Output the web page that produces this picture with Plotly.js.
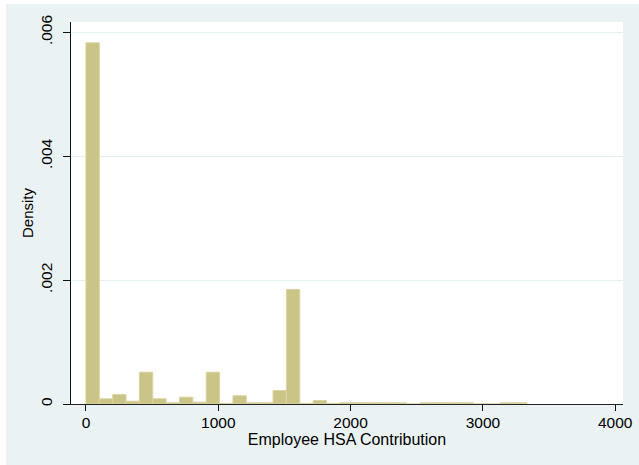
<!DOCTYPE html>
<html>
<head>
<meta charset="utf-8">
<script src="https://cdn.plot.ly/plotly-3.0.1.min.js"></script>
<style>
  html, body { margin: 0; padding: 0; background: #ffffff; }
  #chart { width: 639px; height: 465px; }
</style>
</head>
<body>
<div id="chart"></div>
<script>
// Histogram bins (left edges, in dollars) and densities
const binWidth = 101;
const binStart = [0, 101, 202, 303, 404, 505, 606, 707, 808, 909,
                  1010, 1111, 1212, 1313, 1414, 1515, 1616, 1717, 1818, 1919,
                  2020, 2121, 2222, 2323, 2424, 2525, 2626, 2727, 2828, 2929,
                  3030, 3131, 3232];
const density = [0.00583, 0.000084, 0.000154, 0.000045, 0.000514, 0.000084, 0.00002, 0.00011, 0.00003, 0.000514,
                 0.00001, 0.000133, 0.00002, 0.00002, 0.000218, 0.00185, 0.00001, 0.000057, 0.00001, 0.00002,
                 0.00002, 0.00002, 0.00002, 0.00002, 0, 0.00002, 0.00002, 0.00002, 0.00002, 0,
                 0, 0.00002, 0.00002];

const xTickVals = [0, 1000, 2000, 3000, 4000];
const xTickText = ['0', '1000', '2000', '3000', '4000'];
const yTickVals = [0, 0.002, 0.004, 0.006];
const yTickText = ['0', '.002', '.004', '.006'];

const FONT = 'Liberation Sans, Arial, Helvetica, sans-serif';

const trace = {
  type: 'bar',
  x: binStart,
  y: density,
  width: binWidth,
  offset: 0,
  marker: { color: '#cbc487', line: { color: '#d9d4a2', width: 1 } },
  hoverinfo: 'x+y'
};

const W = 639, H = 465, L = 71, R = 16, T = 22, B = 61;
const pw = W - L - R, ph = H - T - B;

const layout = {
  width: W, height: H,
  margin: { l: L, r: R, t: T, b: B, pad: 0 },
  paper_bgcolor: '#eaf2f3',
  plot_bgcolor: '#ffffff',
  showlegend: false,
  font: { family: FONT, size: 15, color: '#000000' },
  xaxis: {
    range: [-113, 4059],
    tickvals: xTickVals, ticktext: xTickText,
    ticks: 'outside', ticklen: 6, tickcolor: '#111111', tickwidth: 1,
    ticklabelstandoff: -2,
    showline: true, linecolor: '#222222', linewidth: 1,
    showgrid: false, zeroline: false,
    tickfont: { family: FONT, size: 15.5, color: '#000' },
    title: { text: 'Employee HSA Contribution', font: { family: FONT, size: 16, color: '#000' }, standoff: 0 }
  },
  yaxis: {
    range: [0, 0.006167],
    tickvals: yTickVals, ticktext: yTickText,
    tickangle: -90,
    ticks: 'outside', ticklen: 7, tickcolor: '#111111', tickwidth: 1,
    ticklabelstandoff: 5,
    showline: true, linecolor: '#111111', linewidth: 1,
    showgrid: true, gridcolor: '#e6eff0', gridwidth: 1,
    zeroline: false,
    tickfont: { family: FONT, size: 15.5, color: '#000' },
    title: { text: 'Density', font: { family: FONT, size: 15, color: '#000' }, standoff: 0 }
  },
  shapes: [
    { type: 'rect', xref: 'paper', yref: 'paper', layer: 'below',
      x0: -L / pw - 0.01, x1: (6 - L) / pw, y0: -B / ph - 0.05, y1: (ph + T) / ph + 0.05,
      fillcolor: '#ffffff', line: { width: 0 } },
    { type: 'rect', xref: 'paper', yref: 'paper', layer: 'below',
      x0: -L / pw - 0.01, x1: 1 + R / pw + 0.01, y0: (ph + T - 4) / ph, y1: (ph + T) / ph + 0.05,
      fillcolor: '#ffffff', line: { width: 0 } }
  ]
};

Plotly.newPlot('chart', [trace], layout, { displayModeBar: false, staticPlot: true });
</script>
</body>
</html>
